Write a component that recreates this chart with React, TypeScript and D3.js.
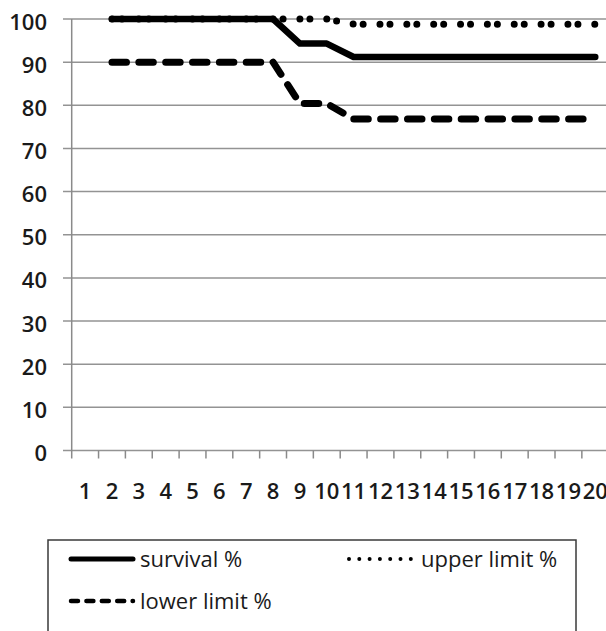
import React, { useEffect, useRef } from 'react';
import * as d3 from 'd3';

const categories = ['1', '2', '3', '4', '5', '6', '7', '8', '9', '10', '11', '12', '13', '14', '15', '16', '17', '18', '19', '20'];
const survival = [null, 100, 100, 100, 100, 100, 100, 100, 94.3, 94.3, 91.2, 91.2, 91.2, 91.2, 91.2, 91.2, 91.2, 91.2, 91.2, 91.2];
const upperLimit = [null, 100, 100, 100, 100, 100, 100, 100, 100, 100, 98.8, 98.8, 98.8, 98.8, 98.8, 98.8, 98.8, 98.8, 98.8, 98.8];
const lowerLimit = [null, 90, 90, 90, 90, 90, 90, 90, 80.4, 80.4, 76.8, 76.8, 76.8, 76.8, 76.8, 76.8, 76.8, 76.8, 76.8, 76.8];
const yTicks = [0, 10, 20, 30, 40, 50, 60, 70, 80, 90, 100];

const W = 606;
const H = 631;
const FONT = '"Open Sans", "Liberation Sans", sans-serif';

export default function App() {
  const svgRef = useRef<SVGSVGElement>(null);

  useEffect(() => {
    if (!svgRef.current) return;
    const svg = d3.select(svgRef.current);
    svg.selectAll('*').remove();

    const left = 71.7;
    const step = 26.85;
    const x = d3.scaleBand<string>()
      .domain(categories)
      .range([left, left + step * categories.length]);
    const y = d3.scaleLinear().domain([0, 100]).range([450.5, 19]);
    const cx = (c: string) => (x(c) as number) + x.bandwidth() / 2;

    // gridlines
    svg.append('g')
      .selectAll('line')
      .data(yTicks)
      .join('line')
      .attr('x1', 63)
      .attr('x2', W)
      .attr('y1', d => y(d))
      .attr('y2', d => y(d))
      .attr('stroke', '#939393')
      .attr('stroke-width', 1.5);

    // y axis line
    svg.append('line')
      .attr('x1', left).attr('x2', left)
      .attr('y1', y(100)).attr('y2', y(0) + 8)
      .attr('stroke', '#8a8a8a')
      .attr('stroke-width', 1.5);

    // x ticks
    svg.append('g')
      .selectAll('line')
      .data(categories)
      .join('line')
      .attr('x1', d => (x(d) as number) + x.bandwidth())
      .attr('x2', d => (x(d) as number) + x.bandwidth())
      .attr('y1', y(0))
      .attr('y2', y(0) + 8)
      .attr('stroke', '#8a8a8a')
      .attr('stroke-width', 1.5);

    // y labels
    svg.append('g')
      .selectAll('text')
      .data(yTicks)
      .join('text')
      .attr('x', 47)
      .attr('y', d => y(d) + 10.5)
      .attr('text-anchor', 'end')
      .style('font-family', FONT)
      .style('font-size', '22px')
      .style('font-weight', 600)
      .attr('fill', '#1a1a1a')
      .text(d => d);

    // x labels
    svg.append('g')
      .selectAll('text')
      .data(categories)
      .join('text')
      .attr('x', d => cx(d))
      .attr('y', 498.5)
      .attr('text-anchor', 'middle')
      .style('font-family', FONT)
      .style('font-size', '22px')
      .style('font-weight', 600)
      .attr('fill', '#1a1a1a')
      .text(d => d);

    const line = d3.line<number | null>()
      .defined(d => d != null)
      .x((_, i) => cx(categories[i]))
      .y(d => y(d as number));

    svg.append('path')
      .datum(upperLimit)
      .attr('d', line)
      .attr('fill', 'none')
      .attr('stroke', '#000')
      .attr('stroke-width', 7)
      .attr('stroke-linecap', 'round')
      .attr('stroke-dasharray', '0,10,0,16.85');

    svg.append('path')
      .datum(lowerLimit)
      .attr('d', line)
      .attr('fill', 'none')
      .attr('stroke', '#000')
      .attr('stroke-width', 7)
      .attr('stroke-linecap', 'round')
      .attr('stroke-dasharray', '14.5,12.35');

    svg.append('path')
      .datum(survival)
      .attr('d', line)
      .attr('fill', 'none')
      .attr('stroke', '#000')
      .attr('stroke-width', 6.5)
      .attr('stroke-linejoin', 'round')
      .attr('stroke-linecap', 'round');

    // legend
    const lg = svg.append('g');
    lg.append('rect')
      .attr('x', 48).attr('y', 540)
      .attr('width', 528).attr('height', 130)
      .attr('fill', '#fff')
      .attr('stroke', '#3a3a3a')
      .attr('stroke-width', 1.5);

    const items = [
      { label: 'survival %', x1: 71, x2: 133, y: 559, dash: null as string | null, w: 5, tx: 140 },
      { label: 'upper limit %', x1: 349, x2: 411, y: 559, dash: '0,10.3', w: 4, tx: 421 },
      { label: 'lower limit %', x1: 71, x2: 133, y: 601, dash: '7,8.4', w: 4.5, tx: 140 },
    ];
    items.forEach(it => {
      const ln = lg.append('line')
        .attr('x1', it.x1).attr('x2', it.x2)
        .attr('y1', it.y).attr('y2', it.y)
        .attr('stroke', '#000')
        .attr('stroke-width', it.w)
        .attr('stroke-linecap', 'round');
      if (it.dash) ln.attr('stroke-dasharray', it.dash);
      lg.append('text')
        .attr('x', it.tx)
        .attr('y', it.y + 8)
        .style('font-family', FONT)
        .style('font-size', '22px')
        .style('font-weight', 500)
        .attr('fill', '#1a1a1a')
        .text(it.label);
    });
  }, []);

  return (
    <svg
      ref={svgRef}
      width={W}
      height={H}
      style={{ position: 'absolute', left: 0, top: 0, background: '#fff' }}
    />
  );
}
